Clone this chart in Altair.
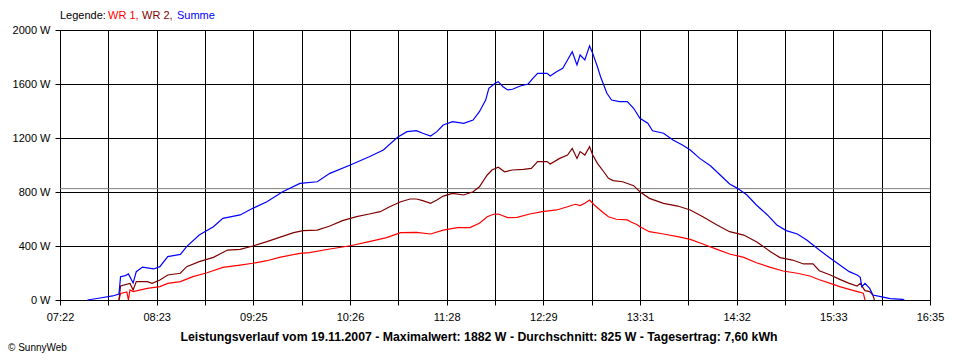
import altair as alt
import pandas as pd

# ---------------- data ----------------
SERIES = ["WR 1", "WR 2", "Summe"]
COLORS = ["#ff0000", "#800000", "#0000ff"]

WR1_TIME = ["08:00", "08:01", "08:05", "08:06", "08:07", "08:09", "08:18", "08:26", "08:31", "08:39",
            "08:47", "08:56", "09:06", "09:17", "09:25", "09:34", "09:42", "09:55", "10:01", "10:14",
            "10:27", "10:39", "10:50", "10:59", "11:09", "11:18", "11:26", "11:35", "11:43", "11:49",
            "11:54", "11:58", "12:01", "12:07", "12:13", "12:21", "12:29", "12:38", "12:45", "12:50",
            "12:53", "12:56", "12:59", "13:02", "13:07", "13:11", "13:16", "13:23", "13:25", "13:29",
            "13:31", "13:37", "13:46", "13:55", "14:03", "14:11", "14:20", "14:28", "14:37", "14:45",
            "14:54", "15:02", "15:11", "15:19", "15:25", "15:32", "15:38", "15:44", "15:51", "15:53",
            "15:54"]
WR1_W = [0, 49, 60, 0, 74, 62, 86, 99, 123, 136,
         173, 202, 242, 259, 272, 291, 316, 346, 351, 378,
         402, 432, 462, 499, 501, 489, 518, 536, 536, 568,
         617, 635, 637, 610, 612, 637, 654, 667, 691, 709,
         699, 716, 741, 704, 654, 617, 598, 593, 580, 560,
         543, 506, 489, 469, 449, 415, 375, 341, 316, 276,
         242, 215, 198, 178, 150, 123, 99, 79, 57, 49,
         0]

WR2_TIME = ["08:00", "08:01", "08:07", "08:09", "08:11", "08:18", "08:21", "08:26", "08:31", "08:39",
            "08:43", "08:51", "09:00", "09:09", "09:17", "09:25", "09:34", "09:42", "09:51", "09:57",
            "10:06", "10:14", "10:22", "10:31", "10:39", "10:46", "10:52", "10:59", "11:05", "11:09",
            "11:13", "11:18", "11:22", "11:26", "11:32", "11:39", "11:45", "11:49", "11:54", "11:57",
            "12:01", "12:05", "12:10", "12:17", "12:22", "12:26", "12:32", "12:34", "12:40", "12:45",
            "12:48", "12:51", "12:53", "12:56", "12:59", "13:01", "13:04", "13:08", "13:11", "13:14",
            "13:20", "13:27", "13:31", "13:37", "13:46", "13:55", "14:03", "14:11", "14:20", "14:28",
            "14:37", "14:45", "14:54", "15:00", "15:08", "15:15", "15:21", "15:25", "15:32", "15:38",
            "15:44", "15:49", "15:51", "15:53", "15:54", "15:57", "15:59", "16:00"]
WR2_W = [0, 104, 123, 74, 136, 136, 123, 148, 185, 198,
         247, 284, 316, 370, 375, 400, 432, 464, 499, 514,
         518, 548, 588, 617, 637, 654, 691, 728, 748, 748,
         736, 716, 741, 770, 790, 778, 802, 839, 926, 963,
         983, 950, 963, 968, 975, 1025, 1025, 1007, 1049, 1074,
         1123, 1049, 1099, 1074, 1136, 1074, 1012, 950, 901, 884,
         876, 847, 802, 753, 716, 696, 667, 617, 556, 506,
         481, 432, 358, 314, 296, 267, 267, 217, 185, 153,
         123, 104, 123, 86, 69, 62, 37, 0]

SUM_TIME = ["07:40", "07:48", "07:56", "08:00", "08:01", "08:04", "08:06", "08:09", "08:11", "08:15",
            "08:22", "08:26", "08:31", "08:39", "08:43", "08:51", "09:00", "09:06", "09:17", "09:25",
            "09:34", "09:44", "09:55", "10:06", "10:14", "10:27", "10:39", "10:48", "10:57", "11:03",
            "11:09", "11:13", "11:18", "11:22", "11:26", "11:32", "11:39", "11:45", "11:49", "11:53",
            "11:55", "11:59", "12:01", "12:04", "12:07", "12:10", "12:15", "12:20", "12:23", "12:26",
            "12:32", "12:34", "12:38", "12:42", "12:45", "12:48", "12:51", "12:53", "12:56", "12:59",
            "13:01", "13:04", "13:06", "13:08", "13:10", "13:13", "13:18", "13:23", "13:27", "13:31",
            "13:36", "13:39", "13:46", "13:52", "13:58", "14:03", "14:09", "14:16", "14:22", "14:28",
            "14:33", "14:39", "14:45", "14:52", "14:58", "15:04", "15:11", "15:17", "15:25", "15:32",
            "15:38", "15:44", "15:49", "15:51", "15:52", "15:54", "15:57", "15:59", "16:04", "16:10",
            "16:18", "16:19"]
SUM_W = [0, 15, 30, 44, 173, 180, 193, 126, 210, 244,
         230, 247, 321, 338, 395, 481, 543, 605, 630, 679,
         728, 802, 864, 876, 938, 1000, 1061, 1111, 1205, 1247,
         1254, 1235, 1215, 1247, 1296, 1321, 1309, 1333, 1395, 1481,
         1568, 1605, 1617, 1580, 1556, 1561, 1585, 1600, 1642, 1679,
         1679, 1659, 1691, 1716, 1778, 1839, 1741, 1815, 1778, 1882,
         1827, 1728, 1654, 1593, 1531, 1481, 1469, 1469, 1420, 1346,
         1309, 1254, 1235, 1185, 1148, 1111, 1049, 993, 926, 859,
         827, 778, 704, 630, 556, 514, 489, 444, 370, 309,
         259, 210, 185, 168, 99, 123, 86, 37, 25, 10,
         5, 0]

AVG_W = 825
X_START_MIN = 442.53   # 07:22:32
X_END_MIN = 995.31     # 16:35:19
Y_TICKS = [0, 400, 800, 1200, 1600, 2000]

LEGEND_PARTS = ["Legende:", "WR 1,", "WR 2,", "Summe"]
LEGEND_COLORS = ["#000000", "#ff0000", "#800000", "#0000ff"]
TITLE = ("Leistungsverlauf vom 19.11.2007 - Maximalwert: 1882 W - Durchschnitt: 825 W"
         " - Tagesertrag: 7,60 kWh")
FOOTER = "© SunnyWeb"

FONT = "Liberation Sans"


def to_min(s):
    h, m = s.split(":")
    return int(h) * 60 + int(m)


rows = []
for name, times, vals in [("WR 1", WR1_TIME, WR1_W), ("WR 2", WR2_TIME, WR2_W), ("Summe", SUM_TIME, SUM_W)]:
    for i, (t, v) in enumerate(zip(times, vals)):
        rows.append({"serie": name, "t": to_min(t), "w": v, "i": i})
df = pd.DataFrame(rows)

n_grid = 18
step = (X_END_MIN - X_START_MIN) / n_grid
x_ticks = [round(X_START_MIN + k * step, 4) for k in range(n_grid + 1)]

label_expr = (
    f"round((datum.value - {X_START_MIN}) / {step}) % 2 == 0 ? "
    "format(floor(datum.value / 60), '02d') + ':' + format(floor(datum.value % 60), '02d') : ''"
)

W, H = 870, 270

x_scale = alt.Scale(domain=[x_ticks[0], x_ticks[-1]], nice=False, zero=False)
y_scale = alt.Scale(domain=[0, 2000], nice=False)

x_axis = alt.Axis(values=x_ticks, labelExpr=label_expr, title=None, grid=True,
                  gridColor="#000000", gridOpacity=1, gridWidth=1,
                  domainColor="#000000", tickColor="#000000", tickSize=5,
                  labelColor="#000000", labelFont=FONT, labelFontSize=11,
                  labelPadding=6, labelFlush=False, labelOverlap=False)
y_axis = alt.Axis(values=Y_TICKS, labelExpr="datum.value + ' W'", title=None, grid=True,
                  gridColor="#000000", gridOpacity=1, gridWidth=1,
                  domainColor="#000000", tickColor="#000000", tickSize=5,
                  labelColor="#000000", labelFont=FONT, labelFontSize=11,
                  labelPadding=5, labelFlush=False, labelOverlap=False)

avg = alt.Chart(pd.DataFrame({"w": [AVG_W]})).mark_rule(color="#808080", strokeWidth=1).encode(
    y=alt.Y("w:Q", scale=y_scale, axis=y_axis)
)

lines = alt.Chart(df).mark_line(strokeWidth=1.2, interpolate="linear").encode(
    x=alt.X("t:Q", scale=x_scale, axis=x_axis),
    y=alt.Y("w:Q", scale=y_scale, axis=y_axis),
    color=alt.Color("serie:N", scale=alt.Scale(domain=SERIES, range=COLORS), legend=None),
    order="i:Q",
)

legend_x = [0, 48, 82, 117]
legend_layers = []
for txt, col, lx in zip(LEGEND_PARTS, LEGEND_COLORS, legend_x):
    legend_layers.append(
        alt.Chart(pd.DataFrame({"s": [txt]})).mark_text(
            align="left", baseline="middle", font=FONT, fontSize=11, color=col
        ).encode(text="s:N", x=alt.value(lx), y=alt.value(-14))
    )

title_mark = alt.Chart(pd.DataFrame({"s": [TITLE]})).mark_text(
    align="center", baseline="middle", font=FONT, fontSize=12.3, fontWeight="bold", color="#000000"
).encode(text="s:N", x=alt.value(419), y=alt.value(307))

footer_mark = alt.Chart(pd.DataFrame({"s": [FOOTER]})).mark_text(
    align="left", baseline="middle", font=FONT, fontSize=10, color="#000000"
).encode(text="s:N", x=alt.value(-52), y=alt.value(318))

chart = alt.layer(avg, lines, *legend_layers, title_mark, footer_mark).properties(
    width=W, height=H,
    autosize=alt.AutoSizeParams(type="none"),
    padding={"left": 52, "top": 22, "right": 22, "bottom": 58},
    background="#ffffff",
).configure_view(stroke="#000000", strokeWidth=1)

chart.save("out.html", embed_options={"renderer": "svg", "actions": False})
